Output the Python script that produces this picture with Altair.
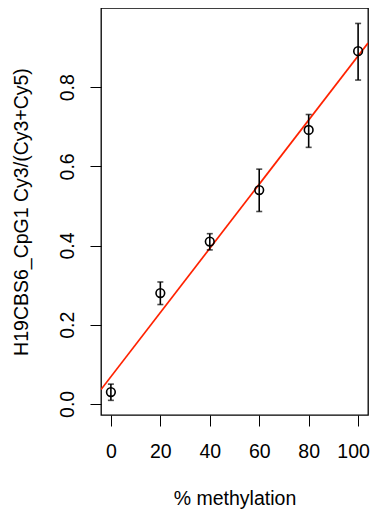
import altair as alt
import pandas as pd

pct = [0, 20, 40, 60, 80, 100]
ratio = [0.030, 0.280, 0.410, 0.540, 0.692, 0.891]
lower = [0.009, 0.251, 0.389, 0.486, 0.648, 0.818]
upper = [0.050, 0.308, 0.430, 0.593, 0.731, 0.961]
x_ticks = [0, 20, 40, 60, 80, 100]
y_ticks = [0.0, 0.2, 0.4, 0.6, 0.8]

df = pd.DataFrame({"pct": pct, "ratio": ratio, "lower": lower, "upper": upper})

FONT = "Liberation Sans"
FS = 19.5
W, H = 267, 407

xscale = alt.Scale(domain=[-4, 104], nice=False, zero=False)
yscale = alt.Scale(domain=[-0.028, 1.0], nice=False, zero=False)

xaxis = alt.Axis(
    values=x_ticks, title="% methylation", grid=False, domain=False,
    tickSize=11, tickColor="black", tickWidth=1,
    labelFont=FONT, labelFontSize=FS, labelColor="black", labelPadding=25,
    labelBaseline="middle", labelFlush=False,
    labelOffset={"condition": {"test": "datum.value == 100", "value": -5}, "value": 0},
    titleFont=FONT, titleFontSize=FS, titleFontWeight="normal", titleColor="black",
    titleY=83, titleBaseline="middle",
)
yaxis = alt.Axis(
    values=y_ticks, format=".1f", title="H19CBS6_CpG1 Cy3/(Cy3+Cy5)", grid=False, domain=False,
    tickSize=11, tickColor="black", tickWidth=1,
    labelFont=FONT, labelFontSize=FS, labelColor="black", labelAngle=270,
    labelAlign="center", labelBaseline="middle", labelPadding=23, labelFlush=False,
    titleFont=FONT, titleFontSize=FS, titleFontWeight="normal", titleColor="black",
    titleAngle=270, titleX=-80, titleY=H / 2, titleAlign="center", titleBaseline="middle",
)

base = alt.Chart(df)

bars = base.mark_errorbar(ticks={"size": 6, "thickness": 1.6, "color": "black"}, color="black", thickness=1.6).encode(
    x=alt.X("pct:Q", scale=xscale, axis=xaxis),
    y=alt.Y("lower:Q", scale=yscale, axis=yaxis),
    y2="upper:Q",
)

pts = base.mark_point(shape="circle", filled=False, color="black", size=75, strokeWidth=1.6, opacity=1).encode(
    x=alt.X("pct:Q", scale=xscale),
    y=alt.Y("ratio:Q", scale=yscale),
)

line = base.transform_regression("pct", "ratio", extent=[-4, 104]).mark_line(
    color="#FF2200", strokeWidth=1.7, clip=True
).encode(
    x=alt.X("pct:Q", scale=xscale),
    y=alt.Y("ratio:Q", scale=yscale),
)

chart = alt.layer(line, bars, pts).properties(
    width=W, height=H,
    autosize=alt.AutoSizeParams(type="none"),
    padding={"left": 93, "top": 0, "right": 2, "bottom": 100},
    background="white",
).configure_view(stroke="black", strokeWidth=1.3)

chart.save("out.html", embed_options={"renderer": "svg", "actions": False})
